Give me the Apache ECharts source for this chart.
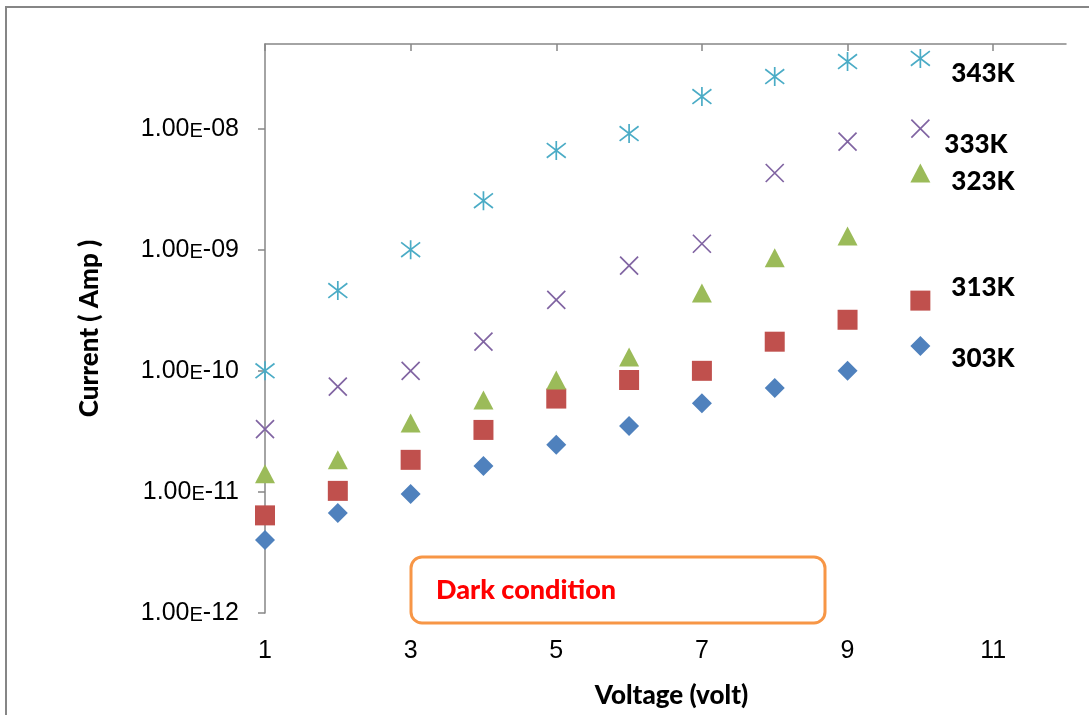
<!DOCTYPE html>
<html>
<head>
<meta charset="utf-8">
<script src="https://cdn.jsdelivr.net/npm/echarts@6/dist/echarts.min.js"></script>
<style>
  html, body { margin: 0; padding: 0; background: #fff; }
  #chart { width: 1089px; height: 715px; }
</style>
</head>
<body>
<div id="chart"></div>
<script>
// Bias voltage (V)
const voltage = [1, 2, 3, 4, 5, 6, 7, 8, 9, 10];

// Dark current (A) at each temperature
const current303K = [4.0e-12, 6.7e-12, 9.6e-12, 1.64e-11, 2.45e-11, 3.5e-11, 5.4e-11, 7.2e-11, 1.0e-10, 1.6e-10];
const current313K = [6.4e-12, 1.02e-11, 1.84e-11, 3.25e-11, 5.9e-11, 8.4e-11, 1.0e-10, 1.74e-10, 2.64e-10, 3.8e-10];
const current323K = [1.41e-11, 1.84e-11, 3.7e-11, 5.75e-11, 8.4e-11, 1.3e-10, 4.4e-10, 8.6e-10, 1.3e-9, 4.3e-9];
const current333K = [3.3e-11, 7.4e-11, 1.0e-10, 1.74e-10, 3.86e-10, 7.4e-10, 1.12e-9, 4.3e-9, 7.8e-9, 1.0e-8];
const current343K = [1.0e-10, 4.6e-10, 1.0e-9, 2.54e-9, 6.6e-9, 9.1e-9, 1.84e-8, 2.69e-8, 3.58e-8, 3.8e-8];

// Axis ticks
const xTicks = [1, 3, 5, 7, 9, 11];
const yTicks = [1e-12, 1e-11, 1e-10, 1e-9, 1e-8];

const temperatureLabels = ['303K', '313K', '323K', '333K', '343K'];
const noteText = 'Dark condition';

const AXIS_GREY = '#868686';
const BOLD_FONT = '900 26px Lato';

function pairs(ys) {
  return voltage.map((v, i) => [v, ys[i]]);
}

// "1.00E-08" style tick labels with a smaller E
function sciLabel(v) {
  const e = Math.round(Math.log10(v));
  if (Math.abs(Math.log10(v) - e) > 1e-6) return '';
  const sign = e < 0 ? '-' : '+';
  const mag = String(Math.abs(e)).padStart(2, '0');
  return '{m|1.00}{e|E}{m|' + sign + mag + '}';
}

const chart = echarts.init(document.getElementById('chart'));

const crossPath = 'path://M0,0L10,10M10,0L0,10';
const starPath = 'path://M0,0L10,10M10,0L0,10M5,-1.5L5,11.5';

function tag(text, x, y) {
  return {
    type: 'text', x: x, y: y,
    style: { text: text, font: BOLD_FONT, fill: '#000', align: 'center', verticalAlign: 'middle' }
  };
}

chart.setOption({
  animation: false,
  backgroundColor: '#fff',
  grid: { left: 265, top: 44, right: 23, bottom: 102, containLabel: false },
  xAxis: [
    {
      type: 'value', min: 1, max: 12, interval: 2, position: 'bottom',
      name: 'Voltage (volt)', nameLocation: 'middle', nameGap: 70,
      nameTextStyle: { fontFamily: 'Lato', fontWeight: 900, fontSize: 26, color: '#000', padding: [0, 0, 0, 12] },
      axisLine: { show: false },
      axisTick: { show: false },
      splitLine: { show: false },
      axisLabel: {
        customValues: xTicks, margin: 26,
        fontFamily: 'Liberation Sans', fontSize: 25, color: '#000'
      }
    },
    {
      type: 'value', min: 1, max: 12, interval: 2, position: 'top',
      axisLine: { show: true, lineStyle: { color: AXIS_GREY, width: 1.5 } },
      axisTick: { show: true, inside: true, length: 7, customValues: xTicks, lineStyle: { color: AXIS_GREY, width: 1.5 } },
      axisLabel: { show: false },
      splitLine: { show: false }
    }
  ],
  yAxis: {
    type: 'log', logBase: 10, min: 1e-12, max: 5e-8,
    name: 'Current ( Amp )', nameLocation: 'middle', nameGap: 162, nameRotate: 90,
    nameTextStyle: { fontFamily: 'Lato', fontWeight: 900, fontSize: 26, color: '#000' },
    axisLine: { show: true, lineStyle: { color: AXIS_GREY, width: 1.5 } },
    axisTick: { show: true, length: 7, customValues: yTicks, lineStyle: { color: AXIS_GREY, width: 1.5 } },
    splitLine: { show: false },
    axisLabel: {
      customValues: yTicks,
      margin: 26,
      formatter: sciLabel,
      rich: {
        m: { fontFamily: 'Liberation Sans', fontSize: 25, color: '#000' },
        e: { fontFamily: 'Liberation Sans', fontSize: 20, color: '#000', verticalAlign: 'bottom' }
      }
    }
  },
  series: [
    {
      name: '303K', type: 'scatter', data: pairs(current303K),
      symbol: 'diamond', symbolSize: 20,
      itemStyle: { color: '#4F81BD', opacity: 1 }
    },
    {
      name: '313K', type: 'scatter', data: pairs(current313K),
      symbol: 'rect', symbolSize: 20,
      itemStyle: { color: '#C0504D', opacity: 1 }
    },
    {
      name: '323K', type: 'scatter', data: pairs(current323K),
      symbol: 'triangle', symbolSize: [20, 19],
      itemStyle: { color: '#9BBB59', opacity: 1 }
    },
    {
      name: '333K', type: 'scatter', data: pairs(current333K),
      symbol: crossPath, symbolSize: 18,
      itemStyle: { color: 'none', borderColor: '#8064A2', borderWidth: 1.7, opacity: 1 }
    },
    {
      name: '343K', type: 'scatter', data: pairs(current343K),
      symbol: starPath, symbolSize: 19,
      itemStyle: { color: 'none', borderColor: '#4BACC6', borderWidth: 1.7, opacity: 1 }
    }
  ],
  graphic: [
    // chart frame
    {
      type: 'rect', silent: true, z: -1,
      shape: { x: 6, y: 7, width: 1200, height: 800 },
      style: { fill: 'none', stroke: AXIS_GREY, lineWidth: 2 }
    },
    // temperature tags
    tag(temperatureLabels[4], 983, 74),
    tag(temperatureLabels[3], 976, 145),
    tag(temperatureLabels[2], 983, 182),
    tag(temperatureLabels[1], 983, 288),
    tag(temperatureLabels[0], 983, 359),
    // measurement note
    {
      type: 'rect', silent: true,
      shape: { x: 411, y: 557, width: 414, height: 66, r: 11 },
      style: { fill: '#fff', stroke: '#F79646', lineWidth: 3 }
    },
    {
      type: 'text', x: 436, y: 590,
      style: { text: noteText, font: '900 27px Lato', fill: '#FF0000', align: 'left', verticalAlign: 'middle' }
    }
  ]
});
</script>
</body>
</html>
